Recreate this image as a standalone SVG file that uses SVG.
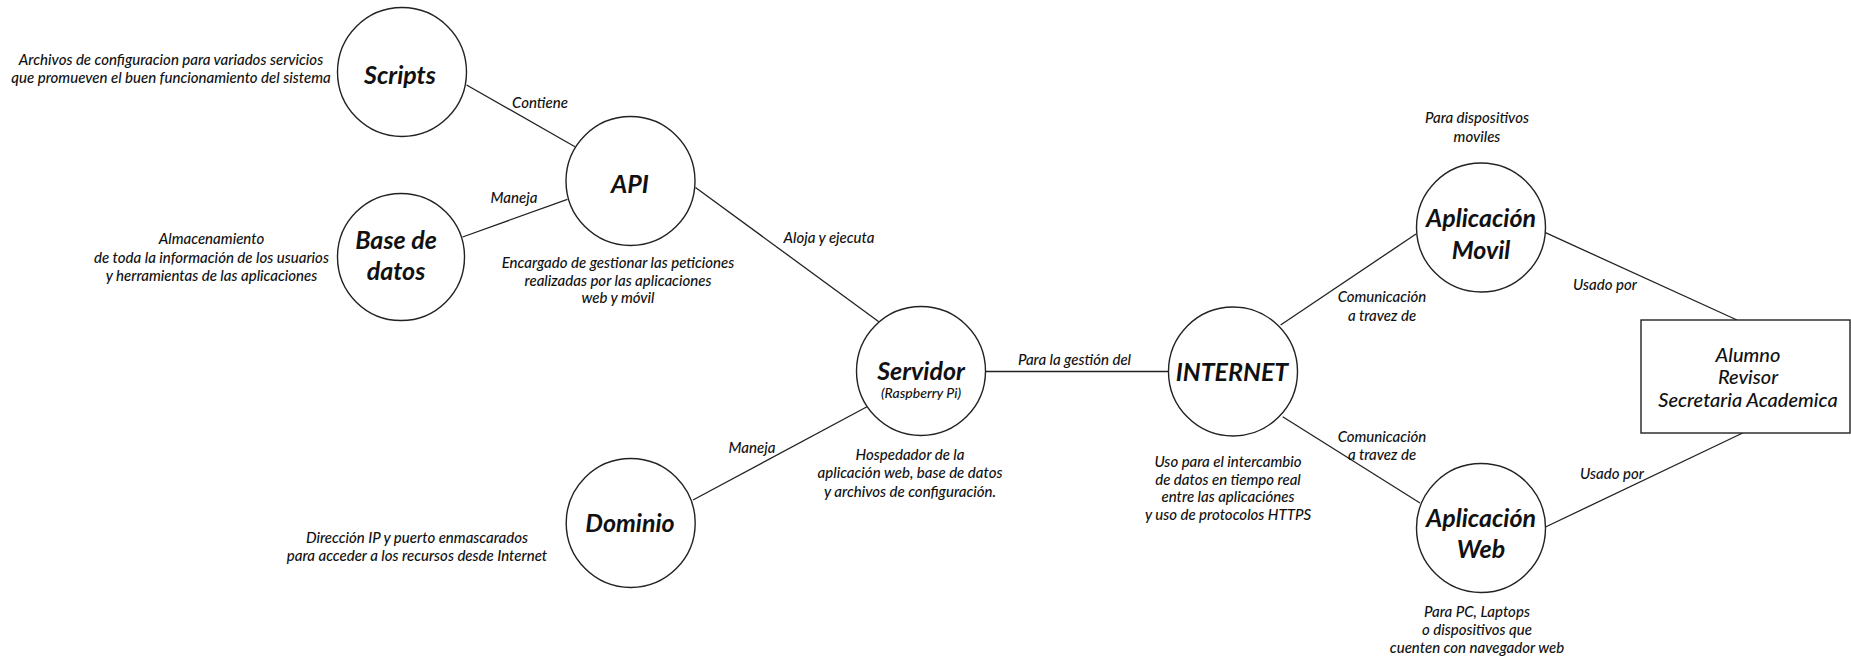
<svg xmlns="http://www.w3.org/2000/svg" width="1851" height="657" viewBox="0 0 1851 657">
  <style>
    .node { fill: #ffffff; stroke: #222222; stroke-width: 1.4; }
    .edge { stroke: #222222; stroke-width: 1.3; fill: none; }
    text { font-family: Lato, "Open Sans", "Liberation Sans", sans-serif; font-style: italic; fill: #111111; text-anchor: middle; }
    .title { font-size: 25px; font-weight: 700; }
    .sub { font-size: 14px; font-weight: 500; }
    .desc { font-size: 15px; font-weight: 500; }
    .lbl { font-size: 15px; font-weight: 500; }
    .actor { font-size: 20px; font-weight: 500; }
  </style>
  <rect width="1851" height="657" fill="#ffffff"/>

  <!-- connectors -->
  <g id="connectors">
    <line class="edge" x1="466.6" y1="85" x2="575" y2="146.7"/>
    <text class="lbl" x="540" y="108">Contiene</text>
    <line class="edge" x1="462.6" y1="237" x2="567.4" y2="199.3"/>
    <text class="lbl" x="514" y="203">Maneja</text>
    <line class="edge" x1="695.5" y1="187.5" x2="878.8" y2="321.7"/>
    <text class="lbl" x="829" y="243">Aloja y ejecuta</text>
    <line class="edge" x1="867" y1="406.7" x2="693" y2="500"/>
    <text class="lbl" x="752" y="453">Maneja</text>
    <line class="edge" x1="985.5" y1="371.5" x2="1168" y2="371.5"/>
    <text class="lbl" x="1074.5" y="365">Para la gestión del</text>
    <line class="edge" x1="1280.6" y1="325" x2="1416" y2="234"/>
    <text class="lbl" x="1382" y="302">Comunicación</text>
    <text class="lbl" x="1382" y="321">a travez de</text>
    <line class="edge" x1="1282.7" y1="416.7" x2="1420" y2="503"/>
    <text class="lbl" x="1382" y="442">Comunicación</text>
    <text class="lbl" x="1382" y="460">a travez de</text>
    <line class="edge" x1="1545.5" y1="232.7" x2="1737" y2="320"/>
    <text class="lbl" x="1605" y="290">Usado por</text>
    <line class="edge" x1="1742.7" y1="433" x2="1545.5" y2="527"/>
    <text class="lbl" x="1612" y="479">Usado por</text>
  </g>

  <!-- Scripts -->
  <g id="scripts">
    <circle class="node" cx="402" cy="72" r="64.5"/>
    <text class="title" x="400" y="84">Scripts</text>
    <text class="desc" x="171" y="65">Archivos de configuracion para variados servicios</text>
    <text class="desc" x="171" y="83">que promueven el buen funcionamiento del sistema</text>
  </g>

  <!-- Base de datos -->
  <g id="base-datos">
    <circle class="node" cx="401" cy="257" r="63.5"/>
    <text class="title" x="396" y="249">Base de</text>
    <text class="title" x="396" y="280">datos</text>
    <text class="desc" x="211.5" y="244">Almacenamiento</text>
    <text class="desc" x="211.5" y="263">de toda la información de los usuarios</text>
    <text class="desc" x="211.5" y="281">y herramientas de las aplicaciones</text>
  </g>

  <!-- API -->
  <g id="api">
    <circle class="node" cx="630.5" cy="181" r="64.5"/>
    <text class="title" x="630" y="192.5">API</text>
    <text class="desc" x="618" y="268">Encargado de gestionar las peticiones</text>
    <text class="desc" x="618" y="286">realizadas por las aplicaciones</text>
    <text class="desc" x="618" y="303">web y móvil</text>
  </g>

  <!-- Servidor -->
  <g id="servidor">
    <circle class="node" cx="921" cy="371" r="64.5"/>
    <text class="title" x="921" y="380">Servidor</text>
    <text class="sub" x="921" y="398">(Raspberry Pi)</text>
    <text class="desc" x="910" y="460">Hospedador de la</text>
    <text class="desc" x="910" y="478">aplicación web, base de datos</text>
    <text class="desc" x="910" y="497">y archivos de configuración.</text>
  </g>

  <!-- Dominio -->
  <g id="dominio">
    <circle class="node" cx="630.7" cy="523" r="64.5"/>
    <text class="title" x="630" y="531.5">Dominio</text>
    <text class="desc" x="417" y="543">Dirección IP y puerto enmascarados</text>
    <text class="desc" x="417" y="561">para acceder a los recursos desde Internet</text>
  </g>

  <!-- INTERNET -->
  <g id="internet">
    <circle class="node" cx="1233" cy="371.5" r="64.5"/>
    <text class="title" x="1232" y="380.5">INTERNET</text>
    <text class="desc" x="1228" y="467">Uso para el intercambio</text>
    <text class="desc" x="1228" y="485">de datos en tiempo real</text>
    <text class="desc" x="1228" y="502">entre las aplicaciónes</text>
    <text class="desc" x="1228" y="520">y uso de protocolos HTTPS</text>
  </g>

  <!-- Aplicacion Movil -->
  <g id="app-movil">
    <circle class="node" cx="1481" cy="227.5" r="64.5"/>
    <text class="title" x="1481" y="227">Aplicación</text>
    <text class="title" x="1481" y="258.5">Movil</text>
    <text class="desc" x="1477" y="123">Para dispositivos</text>
    <text class="desc" x="1477" y="142">moviles</text>
  </g>

  <!-- Aplicacion Web -->
  <g id="app-web">
    <circle class="node" cx="1481" cy="528" r="64.5"/>
    <text class="title" x="1481" y="527">Aplicación</text>
    <text class="title" x="1481" y="558">Web</text>
    <text class="desc" x="1477" y="617">Para PC, Laptops</text>
    <text class="desc" x="1477" y="635">o dispositivos que</text>
    <text class="desc" x="1477" y="653">cuenten con navegador web</text>
  </g>

  <!-- Usuarios -->
  <g id="usuarios">
    <rect class="node" x="1641" y="320" width="209" height="113"/>
    <text class="actor" x="1748" y="361.5">Alumno</text>
    <text class="actor" x="1748" y="384">Revisor</text>
    <text class="actor" x="1748" y="406.5">Secretaria Academica</text>
  </g>
</svg>
